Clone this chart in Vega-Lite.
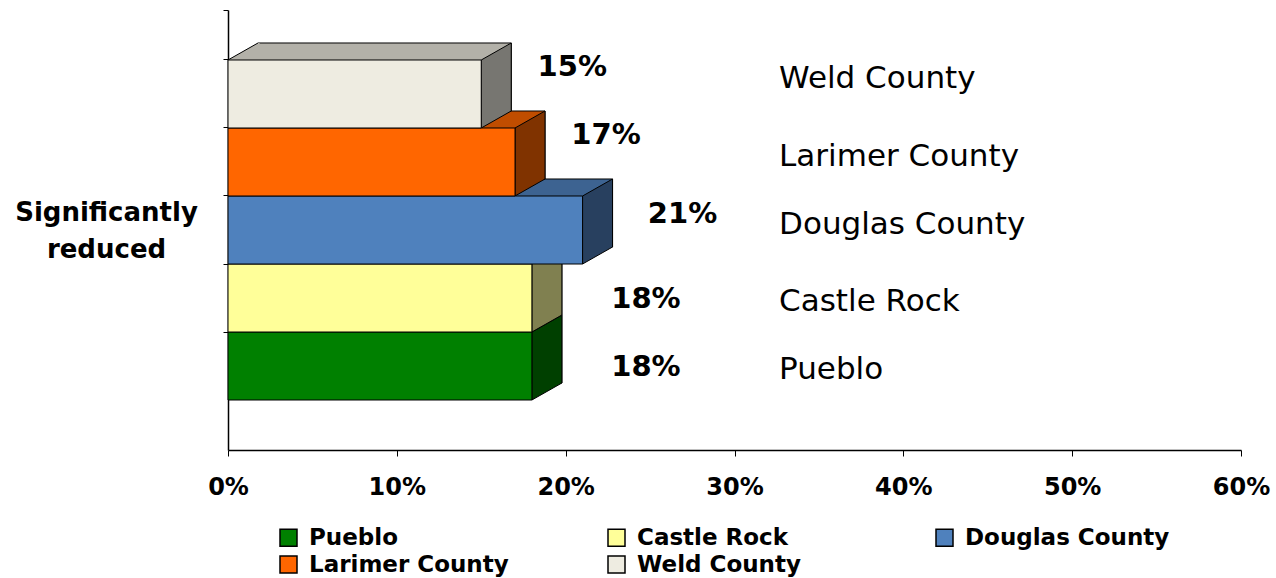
{
  "$schema": "https://vega.github.io/schema/vega-lite/v6.json",
  "width": 1013,
  "height": 440,
  "autosize": {"type": "none"},
  "padding": {"left": 228, "top": 10, "right": 35, "bottom": 128},
  "background": "white",
  "config": {
    "view": {"stroke": null},
    "font": "DejaVu Sans",
    "axis": {"grid": false, "domainColor": "black", "tickColor": "black", "labelColor": "black", "titleColor": "black"},
    "legend": {"labelColor": "black"}
  },
  "data": {
    "values": [
      {"county": "Pueblo", "value": 0.18},
      {"county": "Castle Rock", "value": 0.18},
      {"county": "Douglas County", "value": 0.21},
      {"county": "Larimer County", "value": 0.17},
      {"county": "Weld County", "value": 0.15}
    ]
  },
  "encoding": {
    "y": {
      "field": "county",
      "type": "nominal",
      "sort": ["Weld County", "Larimer County", "Douglas County", "Castle Rock", "Pueblo"],
      "scale": {"paddingInner": 0, "paddingOuter": 0.735},
      "axis": {
        "labels": false,
        "bandPosition": 0,
        "tickExtra": true,
        "tickSize": 5,
        "domainWidth": 1.5,
        "tickWidth": 1,
        "title": ["Significantly", "reduced"],
        "titleAngle": 0,
        "titleAlign": "center",
        "titleBaseline": "middle",
        "titleX": -122,
        "titleY": 202,
        "titleFont": "DejaVu Sans",
        "titleFontWeight": "bold",
        "titleFontSize": 26,
        "titleLineHeight": 37
      }
    }
  },
  "layer": [
    {
      "mark": {"type": "bar", "stroke": "black", "strokeWidth": 1, "xOffset": 30, "x2Offset": 30, "yOffset": -17, "y2Offset": -17},
      "encoding": {
        "x": {
          "field": "value",
          "type": "quantitative",
          "scale": {"domain": [0, 0.6], "nice": false},
          "axis": {
            "values": [0, 0.1, 0.2, 0.3, 0.4, 0.5, 0.6],
            "format": ".0%",
            "title": null,
            "tickSize": 6,
            "domainWidth": 1.5,
            "labelFont": "DejaVu Sans",
            "labelFontWeight": "bold",
            "labelFontSize": 24,
            "labelPadding": 19,
            "labelFlush": false
          }
        },
        "fill": {
          "field": "county",
          "type": "nominal",
          "scale": {"domain": ["Pueblo", "Castle Rock", "Douglas County", "Larimer County", "Weld County"], "range": ["#006000", "#C0C073", "#3D6391", "#C04D00", "#B3B1A9"]},
          "legend": null
        }
      }
    },
    {
      "mark": {"type": "point", "shape": "M0,-1L0.882,-1.5L0.93,-1.5L0.93,-1Z", "size": 4624, "filled": true, "opacity": 1, "strokeWidth": 0},
      "encoding": {
        "x": {"datum": 0, "type": "quantitative"},
        "fill": {
          "field": "county",
          "type": "nominal",
          "scale": {"domain": ["Pueblo", "Castle Rock", "Douglas County", "Larimer County", "Weld County"], "range": ["#006000", "#C0C073", "#3D6391", "#C04D00", "#B3B1A9"]},
          "legend": null
        }
      }
    },
    {
      "mark": {"type": "point", "shape": "M0,-1L0.882,-1.5", "size": 4624, "filled": false, "opacity": 1, "stroke": "black", "strokeWidth": 1, "fill": null},
      "encoding": {
        "x": {"datum": 0, "type": "quantitative"}
      }
    },
    {
      "mark": {"type": "point", "shape": "M0,-1L0.882,-1.5L0.882,0.5L0,1Z", "size": 4624, "filled": true, "opacity": 1, "stroke": "black", "strokeWidth": 1},
      "encoding": {
        "x": {"field": "value", "type": "quantitative"},
        "fill": {
          "field": "county",
          "type": "nominal",
          "scale": {"domain": ["Pueblo", "Castle Rock", "Douglas County", "Larimer County", "Weld County"], "range": ["#004000", "#808050", "#28405F", "#803300", "#777671"]},
          "legend": null
        }
      }
    },
    {
      "mark": {"type": "bar", "stroke": "black", "strokeWidth": 1},
      "encoding": {
        "x": {"field": "value", "type": "quantitative"},
        "fill": {
          "field": "county",
          "type": "nominal",
          "scale": {"domain": ["Pueblo", "Castle Rock", "Douglas County", "Larimer County", "Weld County"], "range": ["#008000", "#FFFF99", "#4F81BD", "#FF6600", "#EEECE1"]},
          "legend": {
            "orient": "none",
            "legendX": 49,
            "legendY": 516,
            "direction": "horizontal",
            "columns": 3,
            "gridAlign": "all",
            "columnPadding": 91,
            "rowPadding": 3,
            "title": null,
            "symbolType": "square",
            "symbolSize": 289,
            "symbolStrokeColor": "black",
            "symbolStrokeWidth": 1.5,
            "labelOffset": 9,
            "labelFont": "DejaVu Sans",
            "labelFontWeight": "bold",
            "labelFontSize": 23,
            "labelLimit": 400
          }
        }
      }
    },
    {
      "transform": [{"filter": {"field": "county", "oneOf": ["Weld County", "Larimer County"]}}],
      "mark": {"type": "text", "align": "center", "baseline": "middle", "dx": 91, "dy": -27, "font": "DejaVu Sans", "fontWeight": "bold", "fontSize": 29, "color": "black"},
      "encoding": {
        "x": {"field": "value", "type": "quantitative"},
        "text": {"field": "value", "type": "quantitative", "format": ".0%"}
      }
    },
    {
      "transform": [{"filter": {"field": "county", "equal": "Douglas County"}}],
      "mark": {"type": "text", "align": "center", "baseline": "middle", "dx": 100, "dy": -16, "font": "DejaVu Sans", "fontWeight": "bold", "fontSize": 29, "color": "black"},
      "encoding": {
        "x": {"field": "value", "type": "quantitative"},
        "text": {"field": "value", "type": "quantitative", "format": ".0%"}
      }
    },
    {
      "transform": [{"filter": {"field": "county", "oneOf": ["Castle Rock", "Pueblo"]}}],
      "mark": {"type": "text", "align": "center", "baseline": "middle", "dx": 114, "dy": 1, "font": "DejaVu Sans", "fontWeight": "bold", "fontSize": 29, "color": "black"},
      "encoding": {
        "x": {"field": "value", "type": "quantitative"},
        "text": {"field": "value", "type": "quantitative", "format": ".0%"}
      }
    },
    {
      "transform": [{"filter": {"field": "county", "equal": "Weld County"}}],
      "mark": {"type": "text", "align": "left", "baseline": "middle", "dy": -15, "font": "DejaVu Sans", "fontSize": 31, "color": "black"},
      "encoding": {
        "x": {"datum": 0.3264, "type": "quantitative"},
        "text": {"field": "county", "type": "nominal"}
      }
    },
    {
      "transform": [{"filter": {"field": "county", "oneOf": ["Larimer County", "Douglas County"]}}],
      "mark": {"type": "text", "align": "left", "baseline": "middle", "dy": -5, "font": "DejaVu Sans", "fontSize": 31, "color": "black"},
      "encoding": {
        "x": {"datum": 0.3264, "type": "quantitative"},
        "text": {"field": "county", "type": "nominal"}
      }
    },
    {
      "transform": [{"filter": {"field": "county", "oneOf": ["Castle Rock", "Pueblo"]}}],
      "mark": {"type": "text", "align": "left", "baseline": "middle", "dy": 4, "font": "DejaVu Sans", "fontSize": 31, "color": "black"},
      "encoding": {
        "x": {"datum": 0.3264, "type": "quantitative"},
        "text": {"field": "county", "type": "nominal"}
      }
    }
  ],
  "resolve": {"scale": {"fill": "independent"}, "legend": {"fill": "independent"}}
}
